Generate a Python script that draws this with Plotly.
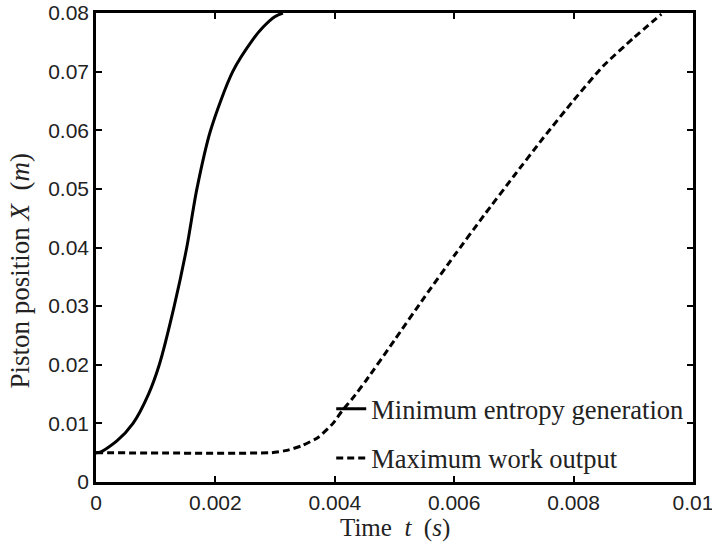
import plotly.graph_objects as go

# Data
t_min_entropy = [0.0, 0.00007, 0.00035, 0.00062, 0.00088, 0.00106, 0.00131, 0.00152,
                 0.00169, 0.00192, 0.00229, 0.00263, 0.0028, 0.0030, 0.00313]
x_min_entropy = [0.005, 0.0051, 0.0070, 0.010, 0.015, 0.020, 0.030, 0.040,
                 0.050, 0.060, 0.070, 0.0755, 0.0776, 0.0794, 0.0800]

t_max_work = [0.0, 0.00294, 0.0032, 0.00345, 0.00372, 0.00397, 0.00412, 0.0043, 0.00453,
              0.005, 0.0055, 0.006, 0.0065, 0.007, 0.0075, 0.008,
              0.0085, 0.009, 0.00947]
x_max_work = [0.005, 0.005, 0.0054, 0.0062, 0.0076, 0.0100, 0.0121, 0.0143, 0.0174,
              0.0242, 0.0315, 0.0386, 0.0455, 0.0522, 0.0588, 0.0651,
              0.0710, 0.0757, 0.0798]

x_ticks = [0, 0.002, 0.004, 0.006, 0.008, 0.01]
x_tick_labels = ["0", "0.002", "0.004", "0.006", "0.008", "0.01"]
y_ticks = [0, 0.01, 0.02, 0.03, 0.04, 0.05, 0.06, 0.07, 0.08]
y_tick_labels = ["0", "0.01", "0.02", "0.03", "0.04", "0.05", "0.06", "0.07", "0.08"]

serif = "Liberation Serif, Times New Roman, serif"
sans = "Liberation Sans, Arial, sans-serif"

fig = go.Figure()
fig.add_trace(go.Scatter(
    x=t_min_entropy, y=x_min_entropy, mode="lines",
    name="Minimum entropy generation", legendgroup="a",
    line=dict(color="black", width=3, shape="spline", smoothing=0.8),
))
fig.add_trace(go.Scatter(
    x=t_max_work, y=x_max_work, mode="lines",
    name="Maximum work output", legendgroup="b",
    line=dict(color="black", width=3, dash="7px,4px", shape="spline", smoothing=0.5),
))

axis_common = dict(
    showline=True, linecolor="black", linewidth=2.5, mirror="ticks",
    ticks="inside", ticklen=6, tickwidth=2, tickcolor="black",
    showgrid=False, zeroline=False, automargin=False,
    ticklabeloverflow="allow",
    tickfont=dict(family=sans, size=21, color="#222"),
)

fig.update_xaxes(range=[0, 0.01], tickvals=x_ticks, ticktext=x_tick_labels, **axis_common)
fig.update_yaxes(range=[0, 0.08], tickvals=y_ticks, ticktext=y_tick_labels, **axis_common)

fig.add_annotation(
    text="Time&nbsp;&nbsp;<i>t</i>&nbsp;&nbsp;(<i>s</i>)", xref="paper", yref="paper",
    x=0.5, y=-0.098, xanchor="center", yanchor="middle", showarrow=False,
    font=dict(family=serif, size=25, color="#222"),
)
fig.add_annotation(
    text="Piston position <i>X</i>&nbsp;&nbsp;(<i>m</i>)", xref="paper", yref="paper",
    x=-0.128, y=0.45, xanchor="center", yanchor="middle", showarrow=False,
    textangle=-90, font=dict(family=serif, size=27, color="#222"),
)

fig.update_layout(
    width=712, height=546,
    margin=dict(l=96, r=19, t=13, b=64),
    paper_bgcolor="white", plot_bgcolor="white",
    showlegend=True,
    legend=dict(
        x=0.394, y=0.207, xanchor="left", yanchor="top",
        bgcolor="rgba(0,0,0,0)", borderwidth=0,
        font=dict(family=serif, size=26.5, color="#222"),
        traceorder="grouped", tracegroupgap=12,
    ),
)

fig.write_html(
    "out.html",
    config={"displayModeBar": False},
    post_script="document.body.style.margin='0';document.body.style.overflow='hidden';",
)
